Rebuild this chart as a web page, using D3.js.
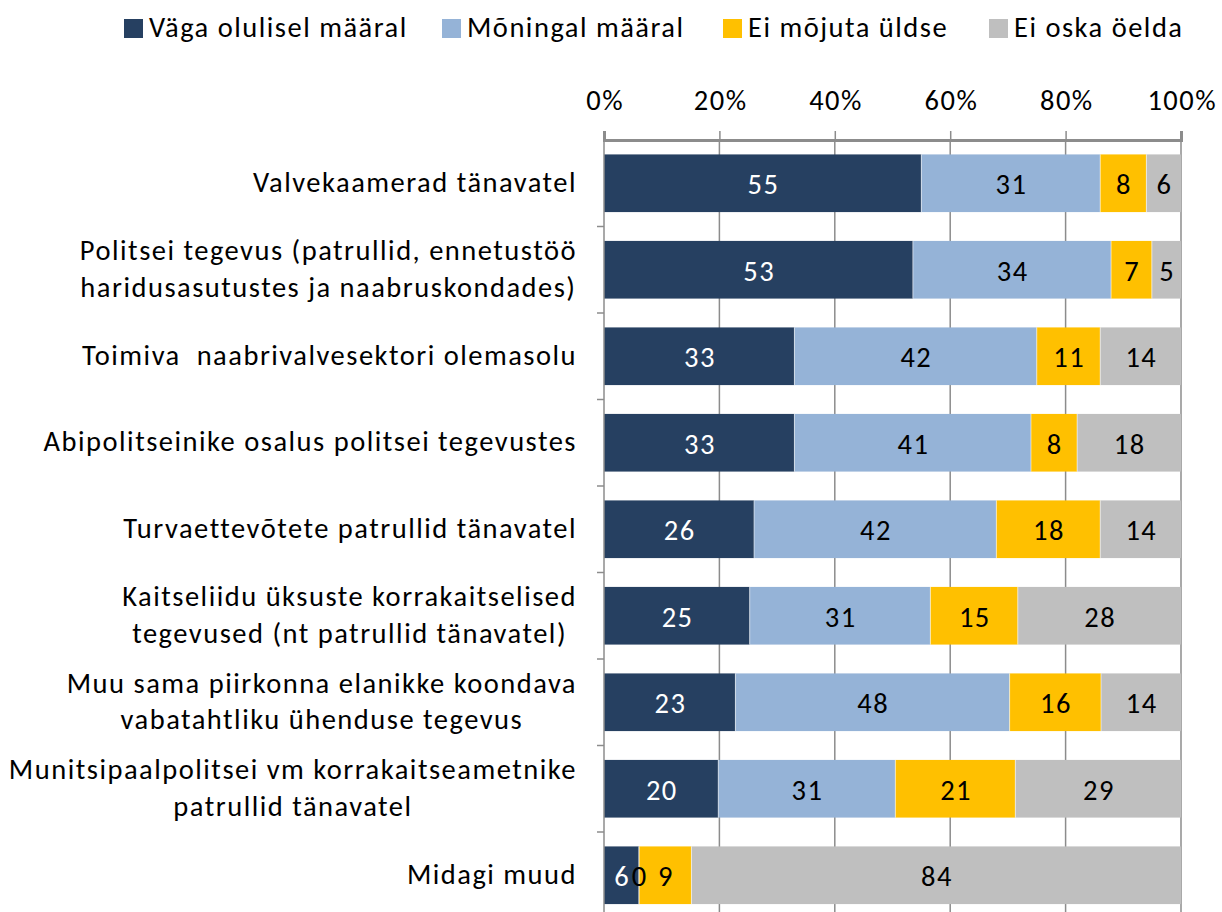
<!DOCTYPE html>
<html><head><meta charset="utf-8">
<script src="https://cdn.jsdelivr.net/npm/d3@7"></script>
<style>body{margin:0;background:#fff}svg{display:block}text{white-space:pre}</style>
</head><body><div id="c"></div>
<script>
const categories = [
  ["Valvekaamerad tänavatel"],
  ["Politsei tegevus (patrullid, ennetustöö", "haridusasutustes ja naabruskondades)"],
  ["Toimiva  naabrivalvesektori olemasolu"],
  ["Abipolitseinike osalus politsei tegevustes"],
  ["Turvaettevõtete patrullid tänavatel"],
  ["Kaitseliidu üksuste korrakaitselised", "tegevused (nt patrullid tänavatel)"],
  ["Muu sama piirkonna elanikke koondava", "vabatahtliku ühenduse tegevus"],
  ["Munitsipaalpolitsei vm korrakaitseametnike", "patrullid tänavatel"],
  ["Midagi muud"]
];
const seriesNames = ["Väga olulisel määral", "Mõningal määral", "Ei mõjuta üldse", "Ei oska öelda"];
const vagaOlulisel = [55, 53, 33, 33, 26, 25, 23, 20, 6];
const moningal     = [31, 34, 42, 41, 42, 31, 48, 31, 0];
const eiMojuta     = [8, 7, 11, 8, 18, 15, 16, 21, 9];
const eiOska       = [6, 5, 14, 18, 14, 28, 14, 29, 84];
const tickValues = [0, 0.2, 0.4, 0.6, 0.8, 1];
const colors = ["#264061", "#95B3D7", "#FFC000", "#BFBFBF"];
const labelColors = ["#fff", "#000", "#000", "#000"];

const W = 1222, H = 912;
const FONT = "Carlito, Calibri, 'Liberation Sans Narrow', 'Liberation Sans', sans-serif";
const FS = 28.5;
const LS = 1.5;
const m = {left: 604, right: 41, top: 140};
const bandH = 86.5;

const rows = categories.map((c, i) => ({
  idx: i, label: c,
  s0: vagaOlulisel[i], s1: moningal[i], s2: eiMojuta[i], s3: eiOska[i]
}));
const keys = ["s0", "s1", "s2", "s3"];
const stack = d3.stack().keys(keys).offset(d3.stackOffsetExpand);
const layers = stack(rows);

const svg = d3.select("#c").append("svg").attr("width", W).attr("height", H)
  .style("font-family", FONT).style("letter-spacing", LS + "px");

const x = d3.scaleLinear().domain([0, 1]).range([m.left, W - m.right]);
const y = d3.scaleBand().domain(d3.range(categories.length))
  .range([m.top, m.top + bandH * categories.length]).paddingInner(1/3).paddingOuter(1/6);

// gridlines
svg.append("g").selectAll("line").data(tickValues.slice(1)).join("line")
  .attr("x1", d => x(d)).attr("x2", d => x(d))
  .attr("y1", m.top).attr("y2", H)
  .attr("stroke", "#8c8c8c").attr("stroke-width", 1.5);

// bars
const g = svg.append("g");
layers.forEach((layer, li) => {
  g.append("g").selectAll("rect").data(layer).join("rect")
    .attr("x", d => x(d[0])).attr("width", d => x(d[1]) - x(d[0]))
    .attr("y", d => y(d.data.idx)).attr("height", y.bandwidth())
    .attr("fill", colors[li]);
});
// thin separators
layers.forEach((layer, li) => {
  if (li === 0) return;
  g.append("g").selectAll("line").data(layer).join("line")
    .attr("x1", d => x(d[0])).attr("x2", d => x(d[0]))
    .attr("y1", d => y(d.data.idx)).attr("y2", d => y(d.data.idx) + y.bandwidth())
    .attr("stroke", "#fff").attr("stroke-width", 0.8).attr("stroke-opacity", 0.7);
});
// data labels
layers.forEach((layer, li) => {
  g.append("g").selectAll("text").data(layer).join("text")
    .attr("x", d => (x(d[0]) + x(d[1])) / 2 + LS / 2)
    .attr("y", d => y(d.data.idx) + y.bandwidth() / 2)
    .attr("dy", "0.38em").attr("text-anchor", "middle")
    .attr("font-size", FS).attr("fill", labelColors[li])
    .text(d => d.data[layer.key]);
});

// top axis
const ax = d3.axisTop(x).tickValues(tickValues).tickFormat(d3.format(".0%")).tickSize(9).tickPadding(21);
const axg = svg.append("g").attr("transform", `translate(0,${m.top})`).call(ax);
axg.select(".domain").attr("stroke", "#8c8c8c").attr("stroke-width", 3);
axg.selectAll(".tick line").attr("stroke", "#8c8c8c").attr("stroke-width", 1.5).attr("y2", -9).attr("y1", 2);
axg.selectAll(".tick text").attr("font-size", FS).attr("fill", "#000").attr("font-family", FONT)
  .attr("dx", LS / 2);

// left axis line with category boundary ticks
svg.append("line").attr("x1", m.left).attr("x2", m.left).attr("y1", m.top).attr("y2", H)
  .attr("stroke", "#8c8c8c").attr("stroke-width", 1.5);
svg.append("g").selectAll("line").data(d3.range(1, categories.length + 1)).join("line")
  .attr("x1", m.left - 7).attr("x2", m.left)
  .attr("y1", d => m.top + d * bandH).attr("y2", d => m.top + d * bandH)
  .attr("stroke", "#8c8c8c").attr("stroke-width", 1.5);

// category labels
const labelRight = 577, lineH = 36.5;
rows.forEach((r, i) => {
  const cy = y(i) + y.bandwidth() / 2;
  const n = r.label.length;
  const t = svg.append("g");
  const texts = r.label.map((ln, k) => t.append("text")
    .attr("y", cy + (k - (n - 1) / 2) * lineH).attr("dy", "0.3em")
    .attr("font-size", FS).attr("fill", "#000").attr("text-anchor", "middle")
    .text(ln));
  const widths = texts.map(tx => tx.node().getComputedTextLength());
  const maxW = d3.max(widths);
  texts.forEach(tx => tx.attr("x", labelRight - maxW / 2));
});

// legend
const legX = [124, 442, 723, 989];
const leg = svg.append("g");
seriesNames.forEach((s, i) => {
  leg.append("rect").attr("x", legX[i]).attr("y", 19).attr("width", 19).attr("height", 19).attr("fill", colors[i]);
  leg.append("text").attr("x", legX[i] + 25).attr("y", 37)
    .attr("font-size", FS).attr("fill", "#000").text(s);
});
</script></body></html>
